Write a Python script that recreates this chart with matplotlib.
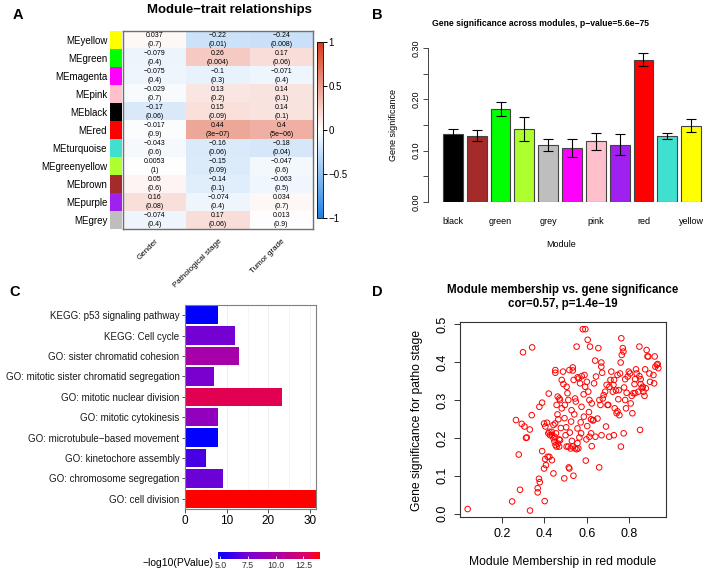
import numpy as np
import matplotlib.pyplot as plt
from matplotlib.colors import LinearSegmentedColormap, Normalize
from matplotlib.cm import ScalarMappable

plt.rcParams['font.family'] = ['Liberation Sans', 'DejaVu Sans']

W, H = 714, 574

### Panel A data: module-trait correlations
me_names = ['MEyellow', 'MEgreen', 'MEmagenta', 'MEpink', 'MEblack', 'MEred',
            'MEturquoise', 'MEgreenyellow', 'MEbrown', 'MEpurple', 'MEgrey']
me_colors = ['#FFFF00', '#00FF00', '#FF00FF', '#FFC0CB', '#000000', '#FF0000',
             '#40E0D0', '#ADFF2F', '#A52A2A', '#A020F0', '#BEBEBE']
traits = ['Gender', 'Pathological stage', 'Tumor grade']
cor_gender = [0.037, -0.079, -0.075, -0.029, -0.17, -0.017, -0.043, 0.0053, 0.05, 0.16, -0.074]
p_gender = [0.7, 0.4, 0.4, 0.7, 0.06, 0.9, 0.6, 1, 0.6, 0.08, 0.4]
cor_stage = [-0.22, 0.26, -0.1, 0.13, 0.15, 0.44, -0.16, -0.15, -0.14, -0.074, 0.17]
p_stage = [0.01, 0.004, 0.3, 0.2, 0.09, 3e-07, 0.06, 0.09, 0.1, 0.4, 0.06]
cor_grade = [-0.24, 0.17, -0.071, 0.14, 0.14, 0.4, -0.18, -0.047, -0.063, 0.034, 0.013]
p_grade = [0.008, 0.06, 0.4, 0.1, 0.1, 5e-06, 0.04, 0.6, 0.5, 0.7, 0.9]

### Panel B data: gene significance per module
gs_modules = ['black', 'brown', 'green', 'greenyellow', 'grey', 'magenta',
              'pink', 'purple', 'red', 'turquoise', 'yellow']
gs_colors = ['#000000', '#A52A2A', '#00FF00', '#ADFF2F', '#BEBEBE', '#FF00FF',
             '#FFC0CB', '#A020F0', '#FF0000', '#40E0D0', '#FFFF00']
gs_mean = [0.133, 0.129, 0.181, 0.142, 0.111, 0.105, 0.118, 0.112, 0.277, 0.129, 0.149]
gs_err = [0.009, 0.011, 0.013, 0.024, 0.011, 0.017, 0.016, 0.020, 0.013, 0.006, 0.012]

### Panel C data: enrichment
terms = ['KEGG: p53 signaling pathway', 'KEGG: Cell cycle', 'GO: sister chromatid cohesion',
         'GO: mitotic sister chromatid segregation', 'GO: mitotic nuclear division',
         'GO: mitotic cytokinesis', 'GO: microtubule\u2212based movement',
         'GO: kinetochore assembly', 'GO: chromosome segregation', 'GO: cell division']
term_count = [8, 12, 13, 7, 23.3, 8, 8, 5, 9, 31.4]
term_logp = [4.8, 7.4, 10.0, 7.6, 13.0, 8.8, 4.9, 6.4, 7.2, 14.0]

### Panel D data: module membership vs gene significance (red module)
mm_red = [0.267, 0.300, 0.343, 0.294, 0.307, 0.314, 0.332, 0.341, 0.377, 0.390, 0.399, 0.405,
          0.413, 0.421, 0.419, 0.427, 0.435, 0.443, 0.451, 0.452, 0.452, 0.458, 0.466, 0.471,
          0.474, 0.482, 0.488, 0.490, 0.482, 0.505, 0.509, 0.513, 0.518, 0.534, 0.534, 0.538,
          0.545, 0.552, 0.557, 0.562, 0.568, 0.576, 0.581, 0.593, 0.589, 0.592, 0.600, 0.604,
          0.607, 0.612, 0.615, 0.620, 0.623, 0.631, 0.634, 0.639, 0.643, 0.654, 0.659, 0.664,
          0.668, 0.668, 0.672, 0.675, 0.679, 0.686, 0.690, 0.693, 0.697, 0.701, 0.706, 0.711,
          0.715, 0.722, 0.725, 0.728, 0.731, 0.737, 0.740, 0.744, 0.744, 0.748, 0.750, 0.753,
          0.756, 0.759, 0.762, 0.764, 0.769, 0.772, 0.775, 0.780, 0.780, 0.784, 0.787, 0.792,
          0.797, 0.803, 0.806, 0.811, 0.814, 0.819, 0.824, 0.827, 0.827, 0.831, 0.834, 0.842,
          0.847, 0.847, 0.853, 0.853, 0.858, 0.863, 0.866, 0.871, 0.874, 0.877, 0.881, 0.885,
          0.889, 0.894, 0.897, 0.913, 0.916, 0.919, 0.922, 0.929, 0.933, 0.936,
          0.040, 0.249, 0.280, 0.286, 0.318, 0.333, 0.369, 0.369, 0.375, 0.379, 0.390, 0.399,
          0.402, 0.404, 0.408, 0.416, 0.424, 0.436, 0.443, 0.424, 0.436, 0.443, 0.448, 0.455,
          0.453, 0.458, 0.464, 0.470, 0.474, 0.494, 0.500, 0.505, 0.513, 0.524, 0.534, 0.545,
          0.552, 0.560, 0.537, 0.565, 0.573, 0.595, 0.598, 0.612, 0.620, 0.623, 0.640, 0.658,
          0.669, 0.705, 0.727, 0.760, 0.773, 0.850, 0.515, 0.518,
          0.462, 0.478, 0.495, 0.503, 0.526, 0.541, 0.556, 0.571, 0.586, 0.602, 0.628, 0.650,
          0.463, 0.497, 0.528, 0.548, 0.575, 0.610, 0.585, 0.530, 0.470, 0.448, 0.520, 0.556]
gs_red = [0.247, 0.426, 0.439, 0.237, 0.230, 0.200, 0.222, 0.260, 0.282, 0.293, 0.238, 0.230,
          0.240, 0.317, 0.212, 0.207, 0.216, 0.234, 0.238, 0.379, 0.372, 0.287, 0.249, 0.304,
          0.300, 0.278, 0.375, 0.342, 0.353, 0.335, 0.318, 0.300, 0.379, 0.386, 0.378, 0.353,
          0.304, 0.441, 0.360, 0.357, 0.344, 0.363, 0.487, 0.487, 0.366, 0.335, 0.348, 0.459,
          0.322, 0.300, 0.441, 0.249, 0.291, 0.247, 0.344, 0.404, 0.362, 0.437, 0.300, 0.287,
          0.399, 0.388, 0.372, 0.304, 0.313, 0.322, 0.230, 0.340, 0.287, 0.287, 0.335, 0.353,
          0.375, 0.322, 0.340, 0.353, 0.278, 0.325, 0.265, 0.366, 0.270, 0.302, 0.326, 0.260,
          0.370, 0.399, 0.463, 0.419, 0.437, 0.428, 0.333, 0.300, 0.355, 0.278, 0.319, 0.362,
          0.375, 0.370, 0.291, 0.311, 0.265, 0.318, 0.342, 0.318, 0.355, 0.381, 0.370, 0.322,
          0.441, 0.363, 0.355, 0.342, 0.331, 0.335, 0.322, 0.311, 0.381, 0.331, 0.432, 0.415,
          0.415, 0.370, 0.348, 0.366, 0.344, 0.415, 0.388, 0.393, 0.395, 0.384,
          0.012, 0.032, 0.156, 0.063, 0.201, 0.008, 0.067, 0.056, 0.092, 0.083, 0.165, 0.119,
          0.033, 0.144, 0.128, 0.150, 0.150, 0.141, 0.106, 0.216, 0.207, 0.199, 0.203, 0.212,
          0.181, 0.177, 0.185, 0.177, 0.194, 0.093, 0.207, 0.177, 0.177, 0.172, 0.177, 0.172,
          0.170, 0.172, 0.100, 0.201, 0.212, 0.140, 0.196, 0.203, 0.212, 0.178, 0.203, 0.122,
          0.207, 0.203, 0.207, 0.177, 0.212, 0.221, 0.122, 0.119,
          0.262, 0.226, 0.252, 0.228, 0.243, 0.262, 0.225, 0.241, 0.256, 0.231, 0.246, 0.251,
          0.309, 0.287, 0.273, 0.296, 0.282, 0.268, 0.315, 0.192, 0.196, 0.190, 0.214, 0.186]


def fx(x):
    return x / W


def fy(y):
    return 1 - y / H


def rfmt(v):
    return f'{v:.2g}'.replace('-', '\u2212')


fig = plt.figure(figsize=(W / 100, H / 100), dpi=100)

### ---------------- Panel A
cmap_a = LinearSegmentedColormap.from_list('bwr_wgcna', ['#1E80E2', '#FFFFFF', '#D8391A'])
cor = np.array([cor_gender, cor_stage, cor_grade]).T
pvals = np.array([p_gender, p_stage, p_grade]).T
n = len(me_names)

ax_a = fig.add_axes([fx(123), fy(229), fx(190), 198 / H])
ax_a.imshow(cor, cmap=cmap_a, vmin=-1, vmax=1, aspect='auto', interpolation='nearest')
for i in range(n):
    for j in range(3):
        ax_a.text(j, i, rfmt(cor[i, j]) + '\n(' + rfmt(pvals[i, j]) + ')', ha='center',
                  va='center', fontsize=5, linespacing=1.5)
ax_a.set_yticks([])
ax_a.set_xticks(range(3))
ax_a.set_xticklabels(traits, rotation=45, ha='right', rotation_mode='anchor', fontsize=5.8)
ax_a.tick_params(axis='x', length=0, pad=6)
for s in ax_a.spines.values():
    s.set_color('#707070')
    s.set_linewidth(1)

ax_sw = fig.add_axes([fx(110), fy(229), fx(12), 198 / H])
ax_sw.barh(range(n), 1, height=1, color=me_colors)
ax_sw.set_ylim(n - 0.5, -0.5)
ax_sw.set_xlim(0, 1)
ax_sw.set_xticks([])
ax_sw.set_yticks(range(n))
ax_sw.set_yticklabels(me_names, fontsize=7)
ax_sw.tick_params(axis='y', length=0, pad=2)
for s in ax_sw.spines.values():
    s.set_visible(False)

cax_a = fig.add_axes([fx(317), fy(218), fx(6), 176 / H])
cb_a = fig.colorbar(ScalarMappable(Normalize(-1, 1), cmap_a), cax=cax_a)
cb_a.set_ticks([-1, -0.5, 0, 0.5, 1])
cb_a.set_ticklabels(['\u22121', '\u22120.5', '0', '0.5', '1'])
cax_a.tick_params(labelsize=7, length=3, width=0.7, pad=1)
cb_a.outline.set_linewidth(0.6)

fig.text(fx(229), fy(10), 'Module\u2212trait relationships', ha='center', va='center',
         fontsize=9.5, fontweight='bold')

### ---------------- Panel B
ax_b = fig.add_axes([fx(428), fy(202), fx(277), 154 / H])
xpos = np.arange(len(gs_modules)) * 1.2 + 0.5
ax_b.bar(xpos, gs_mean, width=1, color=gs_colors, edgecolor='#444444', linewidth=0.8)
ax_b.errorbar(xpos, gs_mean, yerr=gs_err, fmt='none', ecolor='black', elinewidth=0.8,
              capsize=3.5, capthick=0.8)
ax_b.set_xlim(-0.756, 13.2)
ax_b.set_ylim(0, 0.30)
ax_b.set_yticks(np.arange(0, 0.301, 0.05))
ax_b.set_yticklabels(['0.00', '', '0.10', '', '0.20', '', '0.30'], rotation=90, va='center')
ax_b.tick_params(axis='y', labelsize=6.5, length=3.5, width=0.7, pad=2, color='#444444')
ax_b.set_xticks(xpos[::2])
ax_b.set_xticklabels(gs_modules[::2], fontsize=6.5)
ax_b.tick_params(axis='x', length=0, pad=11)
for s in ['top', 'right', 'bottom']:
    ax_b.spines[s].set_visible(False)
ax_b.spines['left'].set_color('#444444')
ax_b.spines['left'].set_linewidth(0.7)
fig.text(fx(393), fy(125), 'Gene significance', rotation=90, ha='center', va='center',
         fontsize=6.5)
fig.text(fx(561), fy(244), 'Module', ha='center', va='center', fontsize=6.5)
fig.text(fx(541), fy(24), 'Gene significance across modules, p\u2212value=5.6e\u221275',
         ha='center', va='center', fontsize=6.2, fontweight='bold')

### ---------------- Panel C
cmap_c = LinearSegmentedColormap.from_list(
    'bluered', [(0, '#0000FF'), (0.29, '#7800D2'), (0.565, '#A800A8'), (0.88, '#DE005E'),
                (1, '#FF0000')])
norm_c = Normalize(4.8, 14.0)
ax_c = fig.add_axes([fx(185), fy(509), fx(131), 204 / H])
ypos = np.arange(len(terms))[::-1]
ax_c.set_axisbelow(True)
ax_c.grid(axis='x', color='#ebebeb', linewidth=0.6)
ax_c.set_xticks([5, 15, 25], minor=True)
ax_c.grid(axis='x', which='minor', color='#f2f2f2', linewidth=0.5)
ax_c.barh(ypos, term_count, height=0.9, color=cmap_c(norm_c(np.array(term_logp))))
ax_c.set_xlim(0, 31.4)
ax_c.set_ylim(-0.5, len(terms) - 0.5)
ax_c.set_yticks(ypos)
ax_c.set_yticklabels(terms, fontsize=7.05, color='#1a1a1a')
ax_c.set_xticks([0, 10, 20, 30])
ax_c.tick_params(axis='x', labelsize=8.5, length=3, width=0.6, pad=1.5, color='#333333')
ax_c.tick_params(axis='x', which='minor', length=0)
ax_c.tick_params(axis='y', length=2.5, width=0.6, pad=1.5, color='#333333')
for s in ax_c.spines.values():
    s.set_color('#7f7f7f')
    s.set_linewidth(0.8)

cax_c = fig.add_axes([fx(218), fy(559), fx(102), 7 / H])
cb_c = fig.colorbar(ScalarMappable(norm_c, cmap_c), cax=cax_c, orientation='horizontal')
cb_c.set_ticks([5, 7.5, 10, 12.5])
cb_c.set_ticklabels(['5.0', '7.5', '10.0', '12.5'])
cb_c.outline.set_visible(False)
cax_c.tick_params(labelsize=6.3, direction='in', color='white', length=2, width=0.6, pad=1.5,
                  labelcolor='#333333')
fig.text(fx(214), fy(563), '\u2212log10(PValue)', ha='right', va='center', fontsize=7.5)

### ---------------- Panel D
ax_d = fig.add_axes([fx(460), fy(517), fx(206), 195 / H])
ax_d.scatter(mm_red, gs_red, s=16, facecolors='none', edgecolors='#FF0000', linewidths=0.7)
ax_d.set_xlim(0.004, 0.972)
ax_d.set_ylim(-0.009, 0.506)
ax_d.set_xticks([0.2, 0.4, 0.6, 0.8])
ax_d.set_yticks([0.0, 0.1, 0.2, 0.3, 0.4, 0.5])
ax_d.set_yticklabels(['0.0', '0.1', '0.2', '0.3', '0.4', '0.5'], rotation=90, va='center')
ax_d.tick_params(labelsize=9, length=4, width=0.7, pad=4, color='#333333')
for s in ax_d.spines.values():
    s.set_color('#333333')
    s.set_linewidth(0.8)
fig.text(fx(417), fy(420), 'Gene significance for patho stage', rotation=90, ha='center',
         va='center', fontsize=8.7)
fig.text(fx(563), fy(562), 'Module Membership in red module', ha='center', va='center',
         fontsize=8.7)
fig.text(fx(563), fy(290), 'Module membership vs. gene significance', ha='center',
         va='center', fontsize=8.3, fontweight='bold')
fig.text(fx(563), fy(304), 'cor=0.57, p=1.4e\u221219', ha='center', va='center', fontsize=8.3,
         fontweight='bold')

### panel letters
for lab, x, y in [('A', 18, 15), ('B', 377, 15), ('C', 15, 292), ('D', 377, 292)]:
    fig.text(fx(x), fy(y), lab, ha='center', va='center', fontsize=10.5, fontweight='bold')

fig.savefig('out.png', dpi=100)
